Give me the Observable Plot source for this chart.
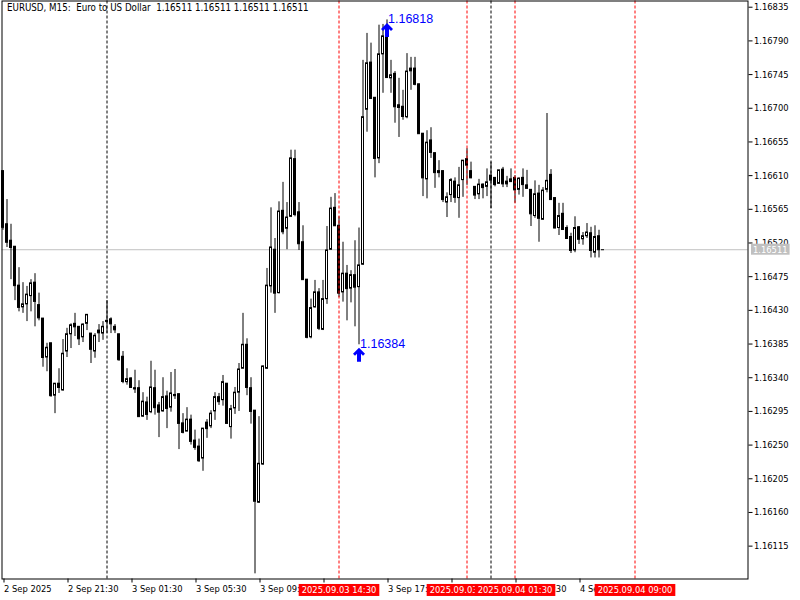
<!DOCTYPE html>
<html><head><meta charset="utf-8">
<script src="https://cdn.jsdelivr.net/npm/d3@7"></script>
<script src="https://cdn.jsdelivr.net/npm/@observablehq/plot@0.6"></script>
<style>
body{margin:0;background:#fff;}
#chart svg{display:block;}
#chart text{white-space:pre;}
</style></head><body><div id="chart"></div>
<script>
// ---- data ----
const titleText = "EURUSD, M15:  Euro to US Dollar  1.16511 1.16511 1.16511 1.16511";
const firstBar = "2025-09-02T17:30:00Z";
const barMinutes = 15;
const open = [1.16616,1.16545,1.16523,1.16515,1.16463,1.16434,1.16438,1.16449,1.16467,1.16437,
1.16419,1.16367,1.16386,1.16316,1.16332,1.16323,1.16375,1.16398,1.16412,1.16408,
1.16394,1.16412,1.16399,1.16375,1.16403,1.16399,1.16416,1.16418,1.16408,1.16398,
1.16368,1.16334,1.16339,1.16326,1.16326,1.16288,1.16307,1.16294,1.16326,1.16303,
1.16295,1.16315,1.16300,1.16317,1.16318,1.16279,1.16268,1.16284,1.16256,1.16248,
1.16232,1.16280,1.16275,1.16295,1.16314,1.16310,1.16332,1.16274,1.16299,1.16320,
1.16352,1.16384,1.16326,1.16296,1.16173,1.16224,1.16352,1.16462,1.16511,1.16453,
1.16563,1.16539,1.16555,1.16632,1.16561,1.16521,1.16471,1.16394,1.16434,1.16454,
1.16404,1.16445,1.16511,1.16567,1.16543,1.16454,1.16479,1.16459,1.16477,1.16461,
1.16491,1.16698,1.16761,1.16714,1.16633,1.16772,1.16800,1.16740,1.16746,1.16704,
1.16702,1.16688,1.16753,1.16753,1.16732,1.16666,1.16605,1.16657,1.16640,1.16616,
1.16616,1.16574,1.16584,1.16602,1.16580,1.16604,1.16632,1.16616,1.16595,1.16585,
1.16598,1.16595,1.16610,1.16607,1.16599,1.16618,1.16602,1.16605,1.16607,1.16591,
1.16607,1.16597,1.16591,1.16556,1.16586,1.16551,1.16591,1.16611,1.16580,1.16540,
1.16559,1.16540,1.16528,1.16510,1.16541,1.16525,1.16529,1.16533,1.16507,1.16529,
1.16511];
const high = [1.16616,1.16578,1.16545,1.16515,1.16487,1.16467,1.16462,1.16471,1.16479,1.16453,
1.16419,1.16386,1.16386,1.16332,1.16352,1.16391,1.16406,1.16412,1.16426,1.16408,
1.16412,1.16424,1.16399,1.16399,1.16411,1.16415,1.16443,1.16420,1.16411,1.16398,
1.16375,1.16352,1.16340,1.16350,1.16336,1.16320,1.16314,1.16362,1.16350,1.16307,
1.16340,1.16322,1.16347,1.16351,1.16318,1.16292,1.16300,1.16290,1.16270,1.16258,
1.16272,1.16284,1.16296,1.16320,1.16319,1.16343,1.16332,1.16303,1.16327,1.16359,
1.16426,1.16392,1.16340,1.16296,1.16288,1.16356,1.16486,1.16567,1.16526,1.16575,
1.16601,1.16574,1.16644,1.16644,1.16574,1.16543,1.16471,1.16445,1.16470,1.16459,
1.16470,1.16542,1.16581,1.16586,1.16555,1.16521,1.16490,1.16483,1.16523,1.16540,
1.16764,1.16800,1.16787,1.16714,1.16811,1.16812,1.16818,1.16764,1.16749,1.16740,
1.16724,1.16773,1.16768,1.16768,1.16732,1.16666,1.16670,1.16674,1.16640,1.16630,
1.16616,1.16587,1.16606,1.16607,1.16621,1.16630,1.16646,1.16628,1.16595,1.16605,
1.16599,1.16619,1.16628,1.16607,1.16617,1.16621,1.16609,1.16619,1.16610,1.16607,
1.16619,1.16617,1.16591,1.16603,1.16597,1.16594,1.16693,1.16618,1.16580,1.16573,
1.16573,1.16543,1.16533,1.16555,1.16542,1.16534,1.16546,1.16541,1.16543,1.16537,
1.16511];
const low = [1.16537,1.16514,1.16471,1.16443,1.16428,1.16426,1.16415,1.16428,1.16408,1.16416,
1.16354,1.16348,1.16314,1.16292,1.16319,1.16322,1.16367,1.16379,1.16395,1.16383,
1.16387,1.16403,1.16359,1.16366,1.16387,1.16390,1.16399,1.16399,1.16399,1.16362,
1.16332,1.16330,1.16326,1.16319,1.16287,1.16287,1.16283,1.16292,1.16290,1.16260,
1.16294,1.16272,1.16294,1.16311,1.16244,1.16265,1.16268,1.16250,1.16243,1.16227,
1.16215,1.16259,1.16272,1.16283,1.16303,1.16302,1.16278,1.16258,1.16291,1.16295,
1.16352,1.16316,1.16278,1.16078,1.16172,1.16223,1.16351,1.16453,1.16426,1.16452,
1.16531,1.16511,1.16554,1.16555,1.16510,1.16470,1.16392,1.16392,1.16433,1.16403,
1.16403,1.16438,1.16510,1.16542,1.16447,1.16441,1.16416,1.16440,1.16408,1.16384,
1.16490,1.16668,1.16712,1.16607,1.16626,1.16720,1.16740,1.16720,1.16680,1.16661,
1.16684,1.16686,1.16724,1.16730,1.16665,1.16582,1.16579,1.16633,1.16593,1.16607,
1.16574,1.16554,1.16574,1.16573,1.16553,1.16581,1.16597,1.16606,1.16578,1.16578,
1.16579,1.16582,1.16566,1.16595,1.16599,1.16594,1.16594,1.16601,1.16573,1.16584,
1.16581,1.16592,1.16542,1.16553,1.16521,1.16551,1.16587,1.16577,1.16539,1.16530,
1.16538,1.16525,1.16506,1.16507,1.16518,1.16517,1.16526,1.16500,1.16500,1.16500,
1.16511];
const close = [1.16541,1.16521,1.16514,1.16463,1.16434,1.16438,1.16451,1.16466,1.16442,1.16420,
1.16367,1.16380,1.16316,1.16332,1.16327,1.16372,1.16398,1.16410,1.16408,1.16392,
1.16411,1.16424,1.16378,1.16396,1.16400,1.16408,1.16415,1.16412,1.16404,1.16364,
1.16335,1.16338,1.16327,1.16325,1.16288,1.16308,1.16291,1.16327,1.16300,1.16294,
1.16314,1.16299,1.16319,1.16316,1.16279,1.16267,1.16284,1.16255,1.16247,1.16229,
1.16272,1.16272,1.16292,1.16314,1.16308,1.16334,1.16279,1.16298,1.16320,1.16351,
1.16384,1.16327,1.16295,1.16175,1.16225,1.16355,1.16463,1.16514,1.16453,1.16562,
1.16535,1.16554,1.16633,1.16558,1.16519,1.16471,1.16394,1.16433,1.16454,1.16406,
1.16445,1.16510,1.16566,1.16543,1.16453,1.16479,1.16459,1.16477,1.16461,1.16490,
1.16688,1.16760,1.16713,1.16633,1.16772,1.16796,1.16741,1.16744,1.16702,1.16701,
1.16689,1.16749,1.16750,1.16732,1.16666,1.16607,1.16654,1.16641,1.16614,1.16614,
1.16578,1.16581,1.16604,1.16581,1.16597,1.16630,1.16624,1.16607,1.16584,1.16598,
1.16594,1.16601,1.16604,1.16598,1.16617,1.16599,1.16599,1.16602,1.16591,1.16606,
1.16598,1.16593,1.16559,1.16585,1.16553,1.16590,1.16603,1.16578,1.16540,1.16556,
1.16538,1.16526,1.16510,1.16540,1.16525,1.16529,1.16534,1.16510,1.16528,1.16511,
1.16511];
const yTicks = [1.16115,1.16160,1.16205,1.16250,1.16295,1.16340,1.16385,1.16430,1.16475,
1.16520,1.16565,1.16610,1.16655,1.16700,1.16745,1.16790,1.16835];
const xTickTimes = ["2025-09-02T17:30:00Z","2025-09-02T21:30:00Z","2025-09-03T01:30:00Z","2025-09-03T05:30:00Z",
"2025-09-03T09:30:00Z","2025-09-03T13:30:00Z","2025-09-03T17:30:00Z","2025-09-03T21:30:00Z",
"2025-09-04T01:30:00Z","2025-09-04T05:30:00Z"];
const xTickLabels = ["2 Sep 2025","2 Sep 21:30","3 Sep 01:30","3 Sep 05:30","3 Sep 09:30","3 Sep 13:30",
"3 Sep 17:30","3 Sep 21:30","4 Sep 01:30","4 Sep 05:30"];
const daySeparators = ["2025-09-03T00:00:00Z","2025-09-04T00:00:00Z"];
const eventTimes = ["2025-09-03T14:30:00Z","2025-09-03T22:30:00Z","2025-09-04T01:30:00Z","2025-09-04T09:00:00Z"];
const eventLabels = ["2025.09.03 14:30","2025.09.03 22:30","2025.09.04 01:30","2025.09.04 09:00"];
const markerTimes = ["2025-09-03T17:30:00Z","2025-09-03T15:45:00Z"];
const markerPrices = [1.16818, 1.16384];
const lastPrice = 1.16511;

// ---- build ----
const barMs = barMinutes * 60000;
const t0 = +new Date(firstBar);
const candles = open.map((o, i) => ({
  t: new Date(t0 + i * barMs), open: o, high: high[i], low: low[i], close: close[i]
}));
const viewFirst = -0.25, viewLast = 186.25; // visible bar range
const xDomain = [new Date(t0 + viewFirst * barMs), new Date(t0 + viewLast * barMs)];
const yDomain = [1.160711, 1.168433];
const labelMap = new Map(xTickTimes.map((s, i) => [+new Date(s), xTickLabels[i]]));
const markers = markerTimes.map((s, i) => ({t: new Date(s), p: markerPrices[i]}));
const events = eventTimes.map((s, i) => ({t: new Date(s), label: eventLabels[i]}));
const fmt = d3.format(".5f");

const arrowSymbol = {
  draw(ctx) {
    ctx.moveTo(0, -7); ctx.lineTo(6, -1); ctx.lineTo(4, 1); ctx.lineTo(2, -1);
    ctx.lineTo(2, 7); ctx.lineTo(-2, 7); ctx.lineTo(-2, -1); ctx.lineTo(-4, 1);
    ctx.lineTo(-6, -1); ctx.closePath();
  }
};

const font = "'DejaVu Sans Condensed', 'DejaVu Sans', sans-serif";
const chart = Plot.plot({
  width: 800, height: 600,
  marginLeft: 1.5, marginRight: 52.5, marginTop: 0.5, marginBottom: 21.5,
  style: {fontFamily: font, fontSize: "9.3px", background: "white", color: "black", overflow: "visible"},
  x: {type: "utc", domain: xDomain},
  y: {domain: yDomain},
  marks: [
    Plot.ruleY([lastPrice], {stroke: "#c0c0c0"}),
    Plot.ruleX(daySeparators.map(s => new Date(s)), {stroke: "black", strokeDasharray: "3,2"}),
    Plot.ruleX(candles, {x: "t", y1: "low", y2: "high", stroke: "black"}),
    Plot.rect(candles, {
      x1: d => new Date(+d.t - 0.25 * barMs), x2: d => new Date(+d.t + 0.25 * barMs),
      y1: "open", y2: "close", stroke: "black",
      fill: d => d.close > d.open ? "white" : "black"
    }),
    Plot.ruleY(candles, {
      y: "close", x1: d => new Date(+d.t - 0.375 * barMs), x2: d => new Date(+d.t + 0.375 * barMs), stroke: "black"
    }),
    Plot.ruleX(events, {x: "t", stroke: "#ff0000", strokeDasharray: "3,2"}),
    Plot.dot(markers, {x: "t", y: "p", symbol: arrowSymbol, r: 5, fill: "#0000ff", stroke: "none", dy: 10}),
    Plot.text(markers, {x: "t", y: "p", text: d => fmt(d.p), textAnchor: "start", dx: 1, dy: -1,
      fill: "#0000ff", fontFamily: "'Liberation Sans', Arial, sans-serif", fontSize: 12.5}),
    Plot.text([titleText], {text: d => d, frameAnchor: "top-left", dx: 5, dy: 3, lineAnchor: "top", textAnchor: "start", fill: "black", fontSize: 9.7}),
    Plot.frame({stroke: "black"}),
    Plot.axisY({anchor: "right", ticks: yTicks, tickFormat: fmt, tickSize: 4, tickPadding: 2, label: null}),
    Plot.axisX({anchor: "bottom", ticks: xTickTimes.map(s => new Date(s)), tickFormat: d => labelMap.get(+d),
      tickSize: 4, tickPadding: 2, textAnchor: "start", dx: 1, label: null}),
    Plot.text(events, {x: "t", text: "label", frameAnchor: "bottom", dy: 11.5, lineAnchor: "middle",
      textAnchor: "middle", fill: "white", ariaDescription: "event-label"}),
    Plot.text([lastPrice], {y: d => d, text: d => fmt(d), frameAnchor: "right", textAnchor: "start",
      dx: 5, fill: "white", ariaDescription: "price-label"})
  ]
});
document.getElementById("chart").append(chart);

function addBoxes(label, fill, padX, padY) {
  chart.querySelectorAll(`g[aria-description="${label}"] text`).forEach(t => {
    const b = t.getBBox();
    const r = document.createElementNS("http://www.w3.org/2000/svg", "rect");
    r.setAttribute("x", b.x - padX); r.setAttribute("y", b.y - padY);
    r.setAttribute("width", b.width + 2 * padX); r.setAttribute("height", b.height + 2 * padY);
    r.setAttribute("fill", fill);
    const tr = t.getAttribute("transform");
    if (tr) r.setAttribute("transform", tr);
    t.parentNode.insertBefore(r, t);
  });
}
addBoxes("event-label", "#ff0000", 3, 0.5);
addBoxes("price-label", "#c0c0c0", 2, 0);
</script></body></html>
